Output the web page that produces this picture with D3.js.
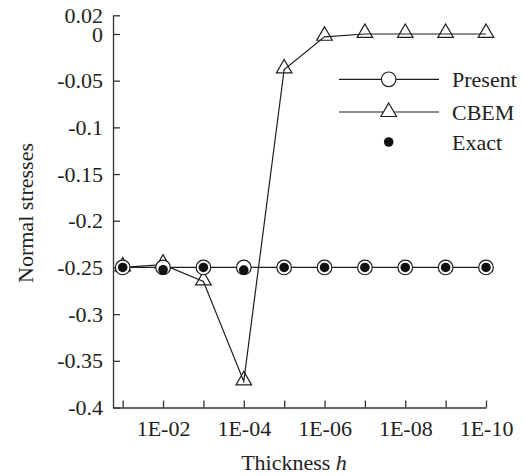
<!DOCTYPE html>
<html>
<head>
<meta charset="utf-8">
<script src="https://cdn.jsdelivr.net/npm/d3@7"></script>
<style>
  html, body { margin: 0; padding: 0; background: #fff; }
  svg text { font-family: "Liberation Serif", "Times New Roman", serif; fill: #222; }
</style>
</head>
<body>
<svg id="chart" width="524" height="476"></svg>
<script>
// Thickness exponents: h = 1E-01 ... 1E-10
const exponents = [1, 2, 3, 4, 5, 6, 7, 8, 9, 10];
const presentValues = [-0.25, -0.25, -0.25, -0.25, -0.25, -0.25, -0.25, -0.25, -0.25, -0.25];
const cbemValues = [-0.25, -0.247, -0.265, -0.372, -0.038, -0.003, 0, 0, 0, 0];
const exactValues = [-0.25, -0.2525, -0.25, -0.2528, -0.25, -0.25, -0.25, -0.25, -0.25, -0.25];
const xTickLabels = ["", "1E-02", "", "1E-04", "", "1E-06", "", "1E-08", "", "1E-10"];
const yTickValues = [0.02, 0, -0.05, -0.1, -0.15, -0.2, -0.25, -0.3, -0.35, -0.4];
const yTickLabels = ["0.02", "0", "-0.05", "-0.1", "-0.15", "-0.2", "-0.25", "-0.3", "-0.35", "-0.4"];
const seriesNames = ["Present", "CBEM", "Exact"];

const svg = d3.select("#chart");
const ink = "#1e1e1e";

const x = d3.scaleLinear().domain([0.76, 10]).range([113, 486]);
const y = d3.scaleLinear().domain([-0.4, 0.02]).range([407.5, 15.3]);

// Axes with inward ticks
const xAxis = d3.axisBottom(x)
  .tickValues(exponents)
  .tickFormat((d, i) => xTickLabels[i])
  .tickSizeInner(-7).tickSizeOuter(0).tickPadding(13);
const yAxis = d3.axisLeft(y)
  .tickValues(yTickValues)
  .tickFormat((d, i) => yTickLabels[i])
  .tickSizeInner(-7).tickSizeOuter(0).tickPadding(10);

const gx = svg.append("g").attr("transform", `translate(0,${y(-0.4)})`).call(xAxis);
const gy = svg.append("g").attr("transform", `translate(${x(0.76)},0)`).call(yAxis);
[gx, gy].forEach(g => {
  g.selectAll("path, line").attr("stroke", "#333").attr("stroke-width", 1.3);
  g.selectAll("text").attr("font-size", 22).attr("fill", "#222")
    .attr("font-family", '"Liberation Serif", "Times New Roman", serif');
});

// Axis titles
const xt = svg.append("text").attr("x", 294).attr("y", 470)
  .attr("text-anchor", "middle").attr("font-size", 22);
xt.append("tspan").text("Thickness ");
xt.append("tspan").attr("font-style", "italic").text("h");

svg.append("text").attr("transform", "translate(33,213) rotate(-90)")
  .attr("text-anchor", "middle").attr("font-size", 22).text("Normal stresses");

const line = d3.line().x((d, i) => x(exponents[i])).y(d => y(d));
const tri = d3.symbol().type(d3.symbolTriangle).size(105);

// CBEM: line with open triangles
svg.append("path").datum(cbemValues).attr("d", line)
  .attr("fill", "none").attr("stroke", ink).attr("stroke-width", 1.2);
svg.append("g").selectAll("path").data(cbemValues).join("path")
  .attr("d", tri)
  .attr("transform", (d, i) => `translate(${x(exponents[i])},${y(d) - 1})`)
  .attr("fill", "none").attr("stroke", ink).attr("stroke-width", 1.2);

// Present: line with open circles
svg.append("path").datum(presentValues).attr("d", line)
  .attr("fill", "none").attr("stroke", ink).attr("stroke-width", 1.2);
svg.append("g").selectAll("circle").data(presentValues).join("circle")
  .attr("cx", (d, i) => x(exponents[i])).attr("cy", d => y(d)).attr("r", 7.3)
  .attr("fill", "#fff").attr("stroke", ink).attr("stroke-width", 1.2);

// Exact: filled dots
svg.append("g").selectAll("circle").data(exactValues).join("circle")
  .attr("cx", (d, i) => x(exponents[i])).attr("cy", d => y(d)).attr("r", 4.8)
  .attr("fill", "#111");

// Legend
const legend = svg.append("g");
const rows = [79.3, 112, 142];
const lx0 = 339, lx1 = 439, lxm = 388.7, tx = 452;
[0, 1].forEach(k => {
  legend.append("line").attr("x1", lx0).attr("x2", lx1).attr("y1", rows[k]).attr("y2", rows[k])
    .attr("stroke", ink).attr("stroke-width", 1.2);
});
legend.append("circle").attr("cx", lxm).attr("cy", rows[0]).attr("r", 7.3)
  .attr("fill", "#fff").attr("stroke", ink).attr("stroke-width", 1.2);
legend.append("path").attr("d", tri).attr("transform", `translate(${lxm},${rows[1]})`)
  .attr("fill", "#fff").attr("stroke", ink).attr("stroke-width", 1.2);
legend.append("circle").attr("cx", lxm).attr("cy", rows[2]).attr("r", 4.8).attr("fill", "#111");
seriesNames.forEach((name, k) => {
  legend.append("text").attr("x", tx).attr("y", rows[k]).attr("dy", "0.35em")
    .attr("font-size", 22).text(name);
});
</script>
</body>
</html>
